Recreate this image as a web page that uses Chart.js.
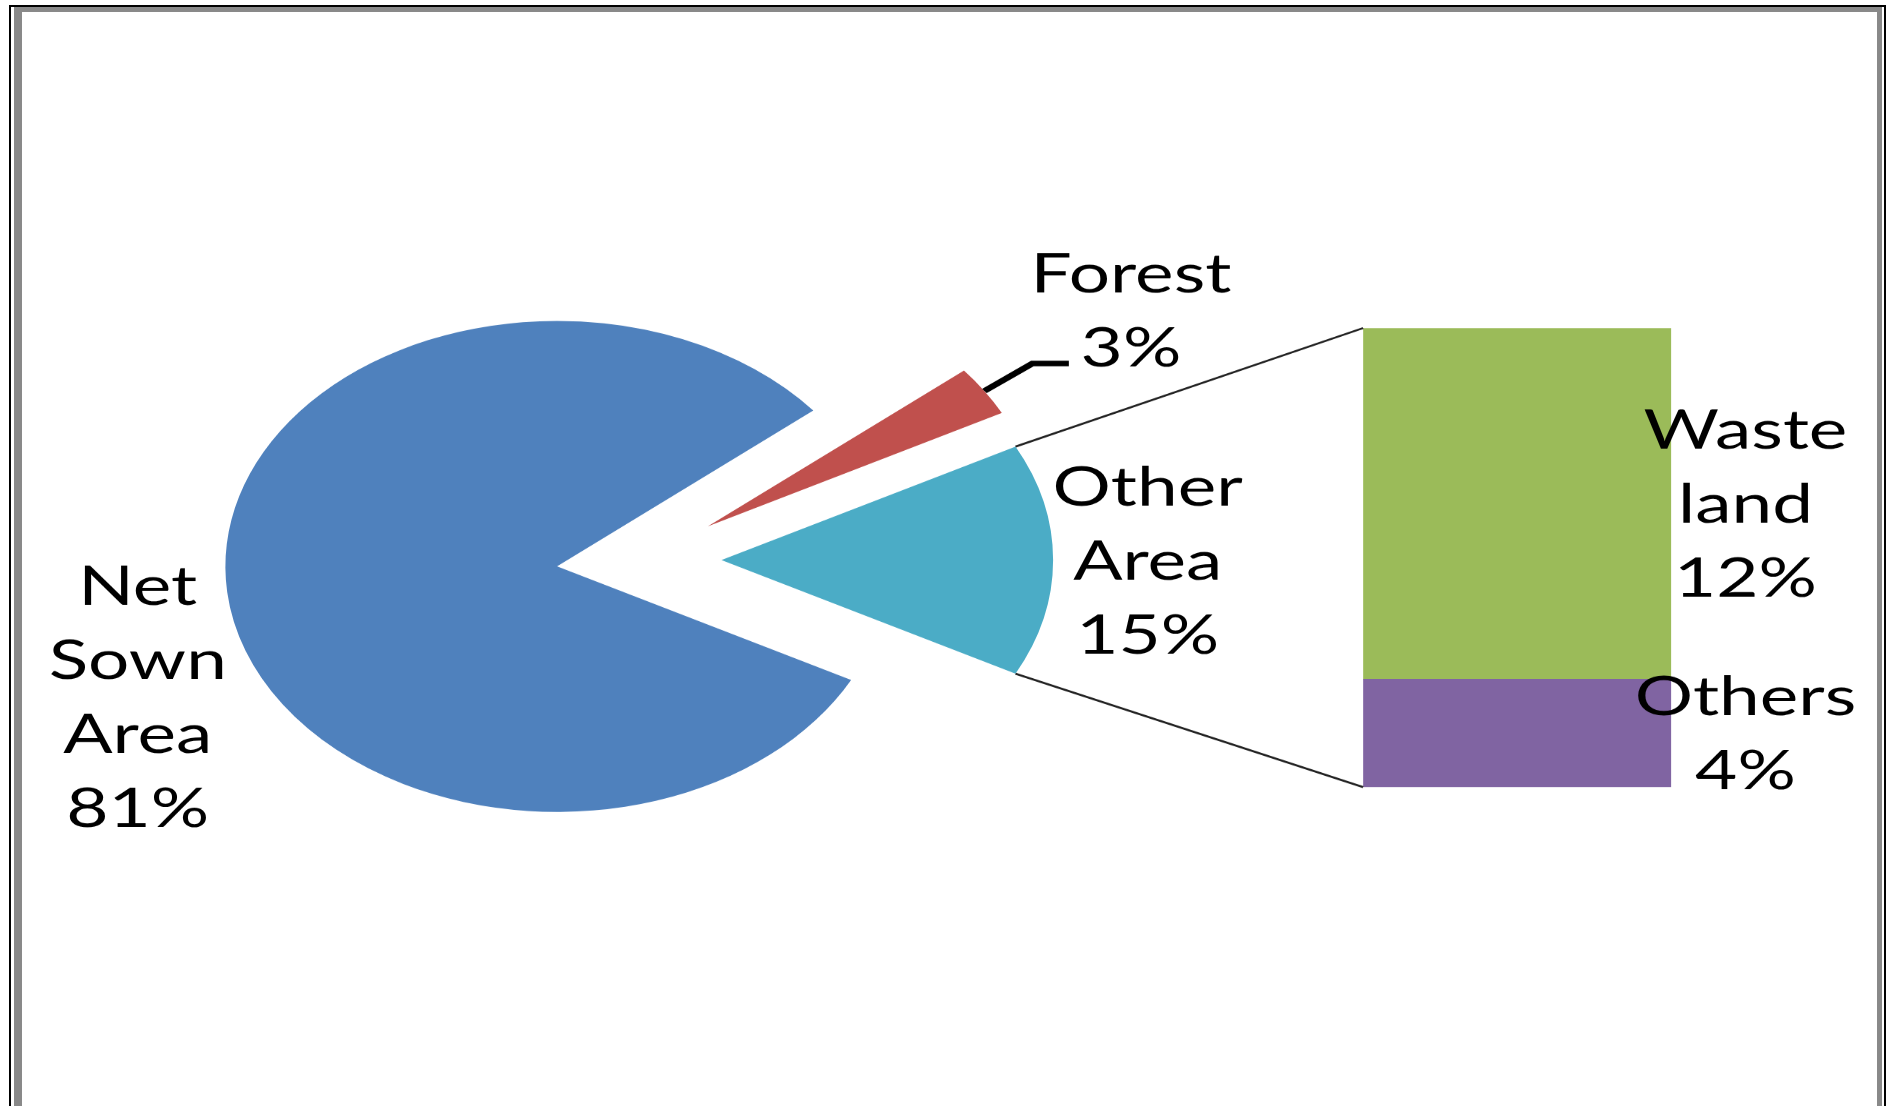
<!DOCTYPE html>
<html>
<head>
<meta charset="utf-8">
<title>Land use</title>
<script src="https://cdn.jsdelivr.net/npm/chart.js@4.4.1/dist/chart.umd.min.js"></script>
<style>
  html, body { margin: 0; padding: 0; background: #fff; }
  #wrap { position: relative; width: 1886px; height: 1106px; overflow: hidden; background: #fff; }
  #wrap canvas { position: absolute; left: 0; top: 0; }
  #pie { z-index: 1; }
  #bar { z-index: 2; }
  .frame-outer { position: absolute; z-index: 3; left: 9px; top: 5px; width: 1873px; height: 1200px;
    border: 2px solid #000; border-bottom: none; }
  .frame-inner { position: absolute; z-index: 3; left: 14px; top: 7px; width: 1855px; height: 1200px;
    border-left: 8px solid #898989; border-top: 5px solid #898989; border-right: 5px solid #898989; }
</style>
</head>
<body>
<div id="wrap">
  <!-- inline size so Chart.js keeps it: the canvas is drawn narrow and shown wide -->
  <canvas id="pie" width="1396" height="1106" style="width:1886px;height:1106px"></canvas>
  <canvas id="bar" width="1396" height="1106" style="width:1886px;height:1106px"></canvas>
  <div class="frame-outer"></div>
  <div class="frame-inner"></div>
</div>
<script>
// values in % of total area
const pieCategories = ["Net Sown Area", "Forest", "Other Area"];
const pieValues = [81.4, 3.3];              // the last slice is the sum of the bar
const barCategories = ["Others", "Waste land"]; // bottom -> top
const barValues = [3.6, 11.7];

const pieColors = ["#4F81BD", "#C0504D", "#4BACC6"];
const barColors = ["#8064A2", "#9BBB59"];

// the original picture is stretched sideways, so draw narrow and widen with css
const STRETCH = 1886 / 1396;
const FONT = '54px Lato, "Open Sans", sans-serif';
const LINE_H = 74;
const PIE_RADIUS = 245.5;
const EXPLODE = 61;

const otherValue = barValues.reduce((a, b) => a + b, 0);
const pieData = [...pieValues, otherValue];
const grandTotal = pieData.reduce((a, b) => a + b, 0);
const pct = (v) => Math.round((v / grandTotal) * 100) + "%";

// label spot: turned from the slice middle (deg) and pushed out past the rim (px)
const pieLabelPlacement = [
  { turn: -16.8, gap: 91 },
  { turn: -1.1, gap: 135, leader: true },
  { turn: 0, gap: 70 },
];
const BAR_LABEL_GAP = 55;

function drawBlock(ctx, lines, cx, cy) {
  lines.forEach((t, i) => {
    const mid = cy + (i - (lines.length - 1) / 2) * LINE_H;
    ctx.fillText(t, cx, mid + 19.3);
  });
}

const explodePlugin = {
  id: "explode",
  afterDatasetsUpdate(chart) {
    chart.getDatasetMeta(0).data.forEach((arc) => {
      const mid = (arc.startAngle + arc.endAngle) / 2;
      arc.x += Math.cos(mid) * EXPLODE;
      arc.y += Math.sin(mid) * EXPLODE;
    });
  },
};

const pieLabelPlugin = {
  id: "pieLabels",
  afterDatasetsDraw(chart) {
    const ctx = chart.ctx;
    const arcs = chart.getDatasetMeta(0).data;
    ctx.save();
    ctx.font = FONT;
    ctx.fillStyle = "#000";
    ctx.textAlign = "center";
    ctx.textBaseline = "alphabetic";
    arcs.forEach((arc, i) => {
      const p = pieLabelPlacement[i];
      const mid = (arc.startAngle + arc.endAngle) / 2;
      const a = mid + (p.turn * Math.PI) / 180;
      const r = arc.outerRadius + p.gap;
      const cx = arc.x + Math.cos(a) * r;
      const cy = arc.y + Math.sin(a) * r;
      drawBlock(ctx, [...pieCategories[i].split(" "), pct(pieData[i])], cx, cy);
      if (p.leader) {
        const sx = arc.x + Math.cos(mid) * arc.outerRadius;
        const sy = arc.y + Math.sin(mid) * arc.outerRadius;
        const ex = cx - 46, ey = cy + 53;
        ctx.beginPath();
        ctx.moveTo(sx, sy);
        ctx.lineTo(ex - 27, ey);
        ctx.lineTo(ex, ey);
        ctx.lineWidth = 5.5;
        ctx.strokeStyle = "#000";
        ctx.stroke();
      }
    });
    ctx.restore();
  },
};

const pieChart = new Chart(document.getElementById("pie"), {
  type: "pie",
  data: {
    labels: pieCategories,
    datasets: [{ data: pieData, backgroundColor: pieColors, borderWidth: 0 }],
  },
  options: {
    responsive: false,
    animation: false,
    events: [],
    devicePixelRatio: STRETCH,
    rotation: 90 + ((otherValue / grandTotal) * 360) / 2,
    radius: PIE_RADIUS,
    layout: { padding: { left: 0, right: 450, top: 14, bottom: 0 } },
    plugins: { legend: { display: false }, tooltip: { enabled: false } },
  },
  plugins: [explodePlugin, pieLabelPlugin],
});

const barLabelPlugin = {
  id: "barLabels",
  afterDraw(chart) {
    const ctx = chart.ctx;
    const other = pieChart.getDatasetMeta(0).data[2];
    const bottomBar = chart.getDatasetMeta(0).data[0];
    const topBar = chart.getDatasetMeta(barValues.length - 1).data[0];
    const R = other.outerRadius;
    ctx.save();
    // lines joining the split slice to the bar
    ctx.beginPath();
    ctx.moveTo(other.x + Math.cos(other.startAngle) * R, other.y + Math.sin(other.startAngle) * R);
    ctx.lineTo(topBar.x - topBar.width / 2, topBar.y);
    ctx.moveTo(other.x + Math.cos(other.endAngle) * R, other.y + Math.sin(other.endAngle) * R);
    ctx.lineTo(bottomBar.x - bottomBar.width / 2, bottomBar.base);
    ctx.lineWidth = 2;
    ctx.strokeStyle = "#222";
    ctx.stroke();

    ctx.font = FONT;
    ctx.fillStyle = "#000";
    ctx.textAlign = "center";
    barCategories.forEach((name, i) => {
      const el = chart.getDatasetMeta(i).data[0];
      const cx = el.x + el.width / 2 + BAR_LABEL_GAP;
      const cy = (el.y + el.base) / 2;
      drawBlock(ctx, [...name.split(" "), pct(barValues[i])], cx, cy);
    });
    ctx.restore();
  },
};

new Chart(document.getElementById("bar"), {
  type: "bar",
  data: {
    labels: ["Other Area"],
    datasets: barCategories.map((name, i) => ({
      label: name,
      data: [barValues[i]],
      backgroundColor: barColors[i],
      borderWidth: 0,
      barPercentage: 1,
      categoryPercentage: 1,
    })),
  },
  options: {
    responsive: false,
    animation: false,
    events: [],
    devicePixelRatio: STRETCH,
    layout: { padding: { left: 1009, right: 159, top: 328, bottom: 319 } },
    scales: {
      x: { stacked: true, display: false },
      y: { stacked: true, display: false, min: 0, max: otherValue },
    },
    plugins: { legend: { display: false }, tooltip: { enabled: false } },
  },
  plugins: [barLabelPlugin],
});
</script>
</body>
</html>
